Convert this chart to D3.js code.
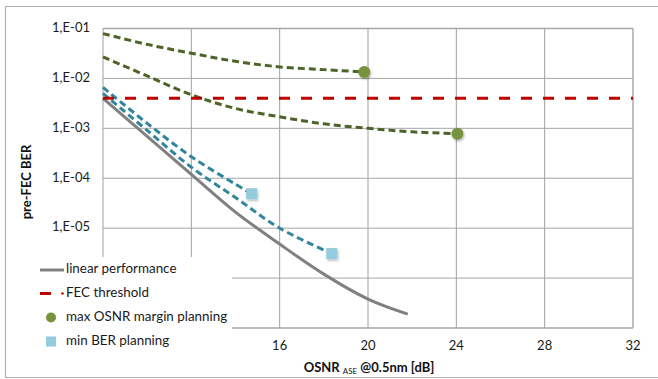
<!DOCTYPE html>
<html>
<head>
<meta charset="utf-8">
<script src="https://cdn.jsdelivr.net/npm/d3@7"></script>
<style>
  body { margin: 0; background: #fff; }
  svg { font-family: Lato, "Open Sans", sans-serif; }
</style>
</head>
<body>
<div id="chart"></div>
<script>
// ---- data ----
var xTicks = [8, 12, 16, 20, 24, 28, 32];
var yTicks = [1e-1, 1e-2, 1e-3, 1e-4, 1e-5, 1e-6, 1e-7];
var yTickLabels = ["1,E-01", "1,E-02", "1,E-03", "1,E-04", "1,E-05", "1,E-06", "1,E-07"];

// linear performance (solid grey)
var linearOsnr = [8, 10, 12, 14, 16, 18, 20, 21.8];
var linearBer = [4.0e-3, 6.9e-4, 1.2e-4, 2.1e-5, 4.8e-6, 1.2e-6, 3.8e-7, 1.9e-7];

// FEC threshold
var fecOsnr = [8, 32];
var fecBer = [4.0e-3, 4.0e-3];

// max OSNR margin planning (green dashed + circle)
var maxMarginOsnrA = [8, 10, 12, 14, 16, 18, 19.83];
var maxMarginBerA = [7.9e-2, 4.8e-2, 3.2e-2, 2.2e-2, 1.7e-2, 1.5e-2, 1.35e-2];
var maxMarginOsnrB = [8, 10, 12, 14, 16, 18, 20, 22, 24.05];
var maxMarginBerB = [2.7e-2, 1.12e-2, 4.7e-3, 2.5e-3, 1.7e-3, 1.23e-3, 1.0e-3, 8.5e-4, 7.8e-4];

// min BER planning (teal dashed + square)
var minBerOsnrA = [8, 10, 12, 14, 14.73];
var minBerBerA = [6.6e-3, 1.26e-3, 2.7e-4, 7.6e-5, 4.9e-5];
var minBerOsnrB = [8, 10, 12, 14, 16, 18.36];
var minBerBerB = [5.0e-3, 9.1e-4, 1.66e-4, 4.1e-5, 1.0e-5, 3.1e-6];

var legendLabels = ["linear performance", "FEC threshold", "max OSNR margin planning", "min BER planning"];

// ---- layout ----
var width = 658, height = 379;
var margin = {left: 103, top: 28.5, right: 25, bottom: 51};
// legend box covers the lower-left corner, like in the original
var legendBox = {x: 7, y: 257, w: 225, h: 119.5};

var svg = d3.select("#chart").append("svg")
  .attr("width", width)
  .attr("height", height);

var defs = svg.append("defs");
var shadow = defs.append("filter").attr("id", "shadow")
  .attr("x", "-50%").attr("y", "-50%").attr("width", "200%").attr("height", "200%");
shadow.append("feDropShadow")
  .attr("dx", 1).attr("dy", 1.5).attr("stdDeviation", 1)
  .attr("flood-color", "#000").attr("flood-opacity", 0.3);

// outer chart border (right side runs off the picture)
svg.append("path")
  .attr("d", "M" + (width + 2) + ",6.5 H5.5 V377.5 H" + (width + 2))
  .attr("fill", "none")
  .attr("stroke", "#b0b0b0")
  .attr("stroke-width", 1.2);

var x = d3.scaleLinear().domain([8, 32]).range([margin.left, width - margin.right]);
var y = d3.scaleLog().domain([1e-7, 1e-1]).range([height - margin.bottom, margin.top]);

// grid
svg.append("g").selectAll("line")
  .data(xTicks)
  .enter().append("line")
  .attr("x1", function(d) { return x(d); })
  .attr("x2", function(d) { return x(d); })
  .attr("y1", y(1e-1))
  .attr("y2", y(1e-7))
  .attr("stroke", function(d) { return d == 32 ? "#bfbfbf" : "#a0a0a0"; })
  .attr("stroke-width", function(d) { return d == 32 ? 2 : 1; });

svg.append("g").selectAll("line")
  .data(yTicks)
  .enter().append("line")
  .attr("x1", x(8))
  .attr("x2", x(32))
  .attr("y1", function(d) { return y(d); })
  .attr("y2", function(d) { return y(d); })
  .attr("stroke", "#a6a6a6")
  .attr("stroke-width", function(d) { return (d == 1e-7 || d == 1e-1) ? 1.6 : 1; });

// tick labels -- the ones hidden under the legend are left out
svg.append("g").selectAll("text")
  .data(yTicks.filter(function(d) { return y(d) < legendBox.y; }))
  .enter().append("text")
  .attr("x", 90)
  .attr("y", function(d) { return y(d); })
  .attr("text-anchor", "end")
  .attr("dominant-baseline", "middle")
  .attr("font-size", 13)
  .attr("fill", "#1a1a1a")
  .text(function(d) { return yTickLabels[yTicks.indexOf(d)]; });

svg.append("g").selectAll("text")
  .data(xTicks.filter(function(d) { return x(d) > legendBox.x + legendBox.w; }))
  .enter().append("text")
  .attr("x", function(d) { return x(d); })
  .attr("y", 347)
  .attr("text-anchor", "middle")
  .attr("dominant-baseline", "middle")
  .attr("font-size", 13)
  .attr("fill", "#1a1a1a")
  .text(function(d) { return d; });

// axis titles
var xTitle = svg.append("text")
  .attr("x", 369)
  .attr("y", 372)
  .attr("text-anchor", "middle")
  .attr("font-size", 13)
  .attr("font-weight", "bold")
  .attr("fill", "#111");
xTitle.append("tspan").text("OSNR ");
xTitle.append("tspan").attr("font-size", 8).attr("font-weight", "normal").attr("dy", 2).text("ASE");
xTitle.append("tspan").attr("dy", -2).text(" @0.5nm [dB]");

svg.append("text")
  .attr("transform", "translate(28,182) rotate(-90)")
  .attr("text-anchor", "middle")
  .attr("dominant-baseline", "middle")
  .attr("font-size", 13)
  .attr("font-weight", "bold")
  .attr("fill", "#111")
  .text("pre-FEC BER");

// series
function pts(xs, ys) {
  return xs.map(function(v, i) { return [v, ys[i]]; });
}
var line = d3.line()
  .x(function(d) { return x(d[0]); })
  .y(function(d) { return y(d[1]); })
  .curve(d3.curveCatmullRom);

var series = [
  {data: pts(maxMarginOsnrA, maxMarginBerA), color: "#4f6228", dash: "7,4"},
  {data: pts(maxMarginOsnrB, maxMarginBerB), color: "#4f6228", dash: "7,4"},
  {data: pts(minBerOsnrA, minBerBerA), color: "#31859c", dash: "7,4"},
  {data: pts(minBerOsnrB, minBerBerB), color: "#31859c", dash: "7,4"},
  {data: pts(linearOsnr, linearBer), color: "#808080", dash: null},
  {data: pts(fecOsnr, fecBer), color: "#c00000", dash: "11,11"}
];

svg.append("g").selectAll("path")
  .data(series)
  .enter().append("path")
  .attr("d", function(d) { return line(d.data); })
  .attr("fill", "none")
  .attr("stroke", function(d) { return d.color; })
  .attr("stroke-width", 3)
  .attr("stroke-dasharray", function(d) { return d.dash; });

// end markers
var circles = [
  [maxMarginOsnrA[maxMarginOsnrA.length - 1], maxMarginBerA[maxMarginBerA.length - 1]],
  [maxMarginOsnrB[maxMarginOsnrB.length - 1], maxMarginBerB[maxMarginBerB.length - 1]]
];
var squares = [
  [minBerOsnrA[minBerOsnrA.length - 1], minBerBerA[minBerBerA.length - 1]],
  [minBerOsnrB[minBerOsnrB.length - 1], minBerBerB[minBerBerB.length - 1]]
];

svg.append("g").selectAll("circle")
  .data(circles)
  .enter().append("circle")
  .attr("cx", function(d) { return x(d[0]); })
  .attr("cy", function(d) { return y(d[1]); })
  .attr("r", 6)
  .attr("fill", "#77933c")
  .attr("filter", "url(#shadow)");

svg.append("g").selectAll("rect")
  .data(squares)
  .enter().append("rect")
  .attr("x", function(d) { return x(d[0]) - 5.5; })
  .attr("y", function(d) { return y(d[1]) - 5.5; })
  .attr("width", 11)
  .attr("height", 11)
  .attr("fill", "#93cddd")
  .attr("filter", "url(#shadow)");

// legend (sits over the lower-left of the plot)
var legend = svg.append("g");
legend.append("rect")
  .attr("x", legendBox.x)
  .attr("y", legendBox.y)
  .attr("width", legendBox.w)
  .attr("height", legendBox.h)
  .attr("fill", "#fff");

var legendY = [270, 293.5, 317.5, 341.5];
legend.append("line")
  .attr("x1", 40).attr("x2", 64)
  .attr("y1", legendY[0]).attr("y2", legendY[0])
  .attr("stroke", "#808080").attr("stroke-width", 3);
legend.append("line")
  .attr("x1", 40).attr("x2", 51)
  .attr("y1", legendY[1]).attr("y2", legendY[1])
  .attr("stroke", "#c00000").attr("stroke-width", 3);
legend.append("circle")
  .attr("cx", 62.5).attr("cy", legendY[1]).attr("r", 1.3)
  .attr("fill", "#c00000");
legend.append("circle")
  .attr("cx", 51).attr("cy", legendY[2]).attr("r", 5)
  .attr("fill", "#77933c");
legend.append("rect")
  .attr("x", 46).attr("y", legendY[3] - 5)
  .attr("width", 10).attr("height", 10)
  .attr("fill", "#93cddd");

legend.selectAll("text")
  .data(legendLabels)
  .enter().append("text")
  .attr("x", 66)
  .attr("y", function(d, i) { return legendY[i]; })
  .attr("dominant-baseline", "middle")
  .attr("font-size", 13.4)
  .attr("fill", "#1a1a1a")
  .text(function(d) { return d; });
</script>
</body>
</html>
